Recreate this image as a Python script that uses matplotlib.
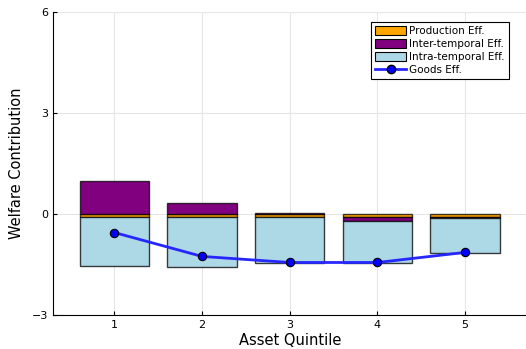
import numpy as np
import matplotlib
matplotlib.use("Agg")
from matplotlib import pyplot as plt
from matplotlib.patches import Patch
from matplotlib.lines import Line2D

# quintiles and welfare decomposition
quintiles = [1, 2, 3, 4, 5]
production = [-0.10, -0.08, -0.10, -0.08, -0.10]
inter_temporal = [0.98, 0.32, 0.03, -0.12, -0.02]
intra_temporal = [-1.45, -1.48, -1.36, -1.26, -1.03]
goods = [-0.55, -1.26, -1.44, -1.44, -1.14]

x = np.array(quintiles, dtype=float)
prod = np.array(production)
inter = np.array(inter_temporal)
intra = np.array(intra_temporal)

fig = plt.figure(figsize=(5.26, 3.49), dpi=100)
ax = fig.add_axes([0.1017, 0.0974, 0.8983, 0.8682])

w = 0.79
edge = dict(edgecolor=(0, 0, 0, 0.75), linewidth=1.0)

# stack negatives downward and positives upward from zero
pos = np.zeros(len(x))
neg = np.zeros(len(x))
for vals, col in [(prod, "orange"), (inter, "purple"), (intra, "lightblue")]:
    base = np.where(vals >= 0, pos, neg)
    ax.bar(x, vals, width=w, bottom=base, color=col, zorder=2, **edge)
    pos = pos + np.where(vals >= 0, vals, 0)
    neg = neg + np.where(vals < 0, vals, 0)

ax.plot(x, goods, color=(0.15, 0.15, 1.0), lw=2, marker="o", ms=6,
        markerfacecolor="blue", markeredgecolor="black", markeredgewidth=0.8, zorder=3)

ax.set_xlim(0.306, 5.694)
ax.set_ylim(-3, 6)
ax.set_xticks(quintiles)
ax.set_yticks([-3, 0, 3, 6])
ax.set_yticklabels(["\u22123", "0", "3", "6"])
ax.grid(True, color=(0.9, 0.9, 0.9), lw=0.8, zorder=0)
ax.set_axisbelow(True)
for s in ["top", "right"]:
    ax.spines[s].set_visible(False)
for s in ["left", "bottom"]:
    ax.spines[s].set_color("black")
ax.tick_params(direction="in", length=3, labelsize=8, color="black")
ax.set_xlabel("Asset Quintile", fontsize=10.5, labelpad=2)
ax.set_ylabel("Welfare Contribution", fontsize=10.5, labelpad=6)

handles = [
    Patch(facecolor="orange", edgecolor="black", lw=0.8, label="Production Eff."),
    Patch(facecolor="purple", edgecolor="black", lw=0.8, label="Inter-temporal Eff."),
    Patch(facecolor="lightblue", edgecolor="black", lw=0.8, label="Intra-temporal Eff."),
    Line2D([], [], color=(0.15, 0.15, 1.0), lw=2, marker="o", ms=6,
           markerfacecolor="blue", markeredgecolor="black", label="Goods Eff."),
]
leg = ax.legend(handles=handles, loc="upper right", bbox_to_anchor=(0.975, 0.985),
                fontsize=7.5, fancybox=False, framealpha=1, edgecolor="black",
                handlelength=3, handleheight=0.9, labelspacing=0.3,
                handletextpad=0.3, borderpad=0.4)
leg.get_frame().set_linewidth(0.8)

fig.savefig("out.png", dpi=100)
